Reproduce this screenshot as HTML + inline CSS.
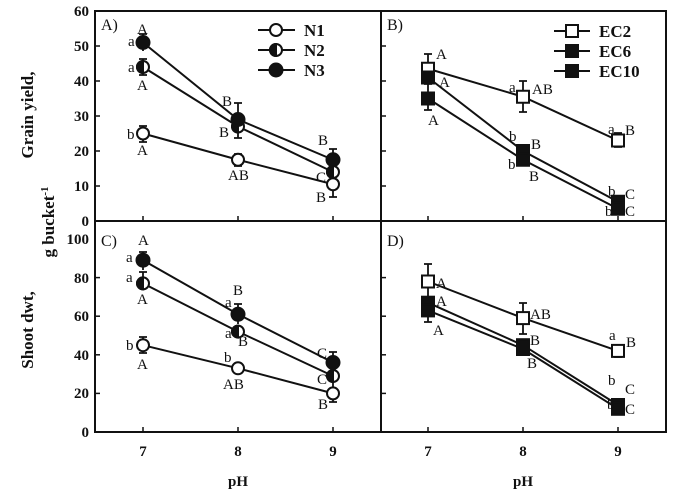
<!DOCTYPE html><html><head><style>body{margin:0;background:#fff}svg{display:block}text{font-family:"Liberation Serif",serif;fill:#111}.b{font-weight:bold}</style></head><body>
<svg width="691" height="501" xmlns="http://www.w3.org/2000/svg">
<g stroke="#111" stroke-width="2" fill="none">
<rect x="95" y="11" width="571" height="421"/>
<line x1="381" y1="11" x2="381" y2="432"/><line x1="95" y1="221" x2="666" y2="221"/>
</g>
<g stroke="#111" stroke-width="1.5">
<line x1="95" y1="186" x2="100" y2="186"/><line x1="95" y1="151" x2="100" y2="151"/><line x1="95" y1="116" x2="100" y2="116"/><line x1="95" y1="81" x2="100" y2="81"/><line x1="95" y1="46" x2="100" y2="46"/>
<line x1="381" y1="186" x2="386" y2="186"/><line x1="381" y1="151" x2="386" y2="151"/><line x1="381" y1="116" x2="386" y2="116"/><line x1="381" y1="81" x2="386" y2="81"/><line x1="381" y1="46" x2="386" y2="46"/>
<line x1="95" y1="393.4" x2="100" y2="393.4"/><line x1="95" y1="354.8" x2="100" y2="354.8"/><line x1="95" y1="316.2" x2="100" y2="316.2"/><line x1="95" y1="277.6" x2="100" y2="277.6"/>
<line x1="381" y1="393.4" x2="386" y2="393.4"/><line x1="381" y1="354.8" x2="386" y2="354.8"/><line x1="381" y1="316.2" x2="386" y2="316.2"/><line x1="381" y1="277.6" x2="386" y2="277.6"/>
<line x1="143" y1="221" x2="143" y2="216"/><line x1="238" y1="221" x2="238" y2="216"/><line x1="333" y1="221" x2="333" y2="216"/>
<line x1="428" y1="221" x2="428" y2="216"/><line x1="523" y1="221" x2="523" y2="216"/><line x1="618" y1="221" x2="618" y2="216"/>
<line x1="143" y1="432" x2="143" y2="427"/><line x1="238" y1="432" x2="238" y2="427"/><line x1="333" y1="432" x2="333" y2="427"/>
<line x1="428" y1="432" x2="428" y2="427"/><line x1="523" y1="432" x2="523" y2="427"/><line x1="618" y1="432" x2="618" y2="427"/>
</g>
<g class="b" font-size="15" text-anchor="end">
<text x="89" y="226">0</text><text x="89" y="191">10</text><text x="89" y="156">20</text><text x="89" y="121">30</text><text x="89" y="86">40</text><text x="89" y="51">50</text><text x="89" y="16">60</text>
<text x="89" y="437">0</text><text x="89" y="398">20</text><text x="89" y="360">40</text><text x="89" y="321">60</text><text x="89" y="283">80</text><text x="89" y="244">100</text>
</g>
<g class="b" font-size="15" text-anchor="middle">
<text x="143" y="456">7</text><text x="238" y="456">8</text><text x="333" y="456">9</text>
<text x="428" y="456">7</text><text x="523" y="456">8</text><text x="618" y="456">9</text>
<text x="238" y="486">pH</text><text x="523" y="486">pH</text>
<text transform="translate(33,115) rotate(-90)" font-size="17">Grain yield,</text>
<text transform="translate(54,222) rotate(-90)" font-size="17">g bucket<tspan font-size="11" dy="-6">-1</tspan></text>
<text transform="translate(33,330) rotate(-90)" font-size="17">Shoot dwt,</text>
</g>
<g font-size="16"><text x="101" y="30">A)</text><text x="387" y="30">B)</text><text x="101" y="246">C)</text><text x="387" y="246">D)</text></g>
<g stroke="#111" stroke-width="2" fill="none">
<polyline points="143,133.5 238,159.75 333,184.25"/><polyline points="143,67 238,126.5 333,172"/><polyline points="143,42.5 238,119.5 333,159.75"/>
<polyline points="428,68.75 523,96.75 618,140.5"/><polyline points="428,77.5 523,151 618,201.75"/><polyline points="428,98.5 523,159.75 618,208.75"/>
<polyline points="143,345.2 238,368.3 333,393.4"/><polyline points="143,283.4 238,331.6 333,376"/><polyline points="143,260.2 238,314.3 333,362.5"/>
<polyline points="428,281.5 523,318.1 618,350.9"/><polyline points="428,302.7 523,345.2 618,405"/><polyline points="428,310.4 523,349 618,408.8"/>
<line x1="258" y1="30" x2="295" y2="30"/><line x1="258" y1="50" x2="295" y2="50"/><line x1="258" y1="70" x2="295" y2="70"/>
<line x1="554" y1="31" x2="590" y2="31"/><line x1="554" y1="51" x2="590" y2="51"/><line x1="554" y1="71" x2="590" y2="71"/>
</g>
<g stroke="#111" stroke-width="1.8" fill="none">
<path d="M143,126v16M139,126h8M139,142h8 M143,59v16M139,59h8M139,75h8 M143,34v17M139,34h8 M238,154v12M234,154h8M234,166h8 M238,103v35M234,103h8M234,138h8 M333,197v-48M329,197h8M329,149h8"/>
<path d="M428,54v30M424,54h8M424,84h8 M428,110v-30 M424,110h8 M523,81v31M519,81h8M519,112h8 M618,133v14M614,133h8M614,147h8"/>
<path d="M143,252v18M139,252h8 M143,290v-18M139,272h8 M143,337v16M139,337h8M139,353h8 M238,304v20M234,304h8 M333,402v-50M329,402h8M329,352h8"/>
<path d="M428,264v32M424,264h8 M428,322v-30M424,322h8 M523,303v31M519,303h8M519,334h8 M618,345v12M614,345h8M614,357h8"/>
</g>
<g stroke="#111" stroke-width="2">
<g fill="#fff"><circle cx="143" cy="133.5" r="6"/><circle cx="238" cy="159.75" r="6"/><circle cx="333" cy="184.25" r="6"/><circle cx="143" cy="345.2" r="6"/><circle cx="238" cy="368.3" r="6"/><circle cx="333" cy="393.4" r="6"/><circle cx="276" cy="30" r="6"/>
<circle cx="143" cy="67" r="6"/><circle cx="238" cy="126.5" r="6"/><circle cx="333" cy="172" r="6"/><circle cx="143" cy="283.4" r="6"/><circle cx="238" cy="331.6" r="6"/><circle cx="333" cy="376" r="6"/><circle cx="276" cy="50" r="6"/>
<rect x="422" y="62.75" width="12" height="12"/><rect x="517" y="90.75" width="12" height="12"/><rect x="612" y="134.5" width="12" height="12"/><rect x="422" y="275.5" width="12" height="12"/><rect x="517" y="312.1" width="12" height="12"/><rect x="612" y="344.9" width="12" height="12"/><rect x="566" y="25" width="12" height="12"/>
</g>
<g fill="#111">
<path d="M143,61a6,6 0 0 0 0,12z"/><path d="M238,120.5a6,6 0 0 0 0,12z"/><path d="M333,166a6,6 0 0 0 0,12z"/><path d="M143,277.4a6,6 0 0 0 0,12z"/><path d="M238,325.6a6,6 0 0 0 0,12z"/><path d="M333,370a6,6 0 0 0 0,12z"/><path d="M276,44a6,6 0 0 0 0,12z"/>
<circle cx="143" cy="42.5" r="6.5"/><circle cx="238" cy="119.5" r="6.5"/><circle cx="333" cy="159.75" r="6.5"/><circle cx="143" cy="260.2" r="6.5"/><circle cx="238" cy="314.3" r="6.5"/><circle cx="333" cy="362.5" r="6.5"/><circle cx="276" cy="70" r="6.5"/>
<rect x="422" y="71.5" width="12" height="12"/><rect x="517" y="145" width="12" height="12"/><rect x="612" y="195.75" width="12" height="12"/><rect x="422" y="296.7" width="12" height="12"/><rect x="517" y="339.2" width="12" height="12"/><rect x="612" y="399" width="12" height="12"/><rect x="566" y="45" width="12" height="12"/>
<rect x="422" y="92.5" width="12" height="12"/><rect x="517" y="153.75" width="12" height="12"/><rect x="612" y="202.75" width="12" height="12"/><rect x="422" y="304.4" width="12" height="12"/><rect x="517" y="343" width="12" height="12"/><rect x="612" y="402.8" width="12" height="12"/><rect x="566" y="65" width="12" height="12"/>
</g></g>
<g class="b" font-size="17"><text x="304" y="36">N1</text><text x="304" y="56">N2</text><text x="304" y="76">N3</text><text x="599" y="37">EC2</text><text x="599" y="57">EC6</text><text x="599" y="77">EC10</text></g>
<g font-size="15">
<text x="137" y="34">A</text><text x="128" y="46">a</text><text x="128" y="72">a</text><text x="137" y="90">A</text><text x="127" y="139">b</text><text x="137" y="155">A</text>
<text x="222" y="106">B</text><text x="219" y="137">B</text><text x="228" y="180">AB</text><text x="318" y="145">B</text><text x="316" y="182">C</text><text x="316" y="202">B</text>
<text x="436" y="59">A</text><text x="439" y="87">A</text><text x="428" y="125">A</text><text x="509" y="92">a</text><text x="532" y="94">AB</text>
<text x="509" y="141">b</text><text x="531" y="149">B</text><text x="508" y="169">b</text><text x="529" y="181">B</text>
<text x="608" y="134">a</text><text x="625" y="135">B</text><text x="608" y="196">b</text><text x="625" y="199">C</text><text x="605" y="216">b</text><text x="625" y="216">C</text>
<text x="138" y="245">A</text><text x="126" y="262">a</text><text x="126" y="282">a</text><text x="137" y="304">A</text><text x="126" y="350">b</text><text x="137" y="369">A</text>
<text x="233" y="295">B</text><text x="225" y="307">a</text><text x="225" y="338">a</text><text x="238" y="346">B</text><text x="224" y="362">b</text><text x="223" y="389">AB</text>
<text x="317" y="358">C</text><text x="317" y="384">C</text><text x="318" y="409">B</text>
<text x="436" y="288">A</text><text x="436" y="306">A</text><text x="433" y="335">A</text><text x="530" y="319">AB</text><text x="530" y="345">B</text><text x="527" y="368">B</text>
<text x="609" y="340">a</text><text x="626" y="347">B</text><text x="608" y="385">b</text><text x="625" y="394">C</text><text x="607" y="409">b</text><text x="625" y="414">C</text>
</g>
</svg></body></html>
